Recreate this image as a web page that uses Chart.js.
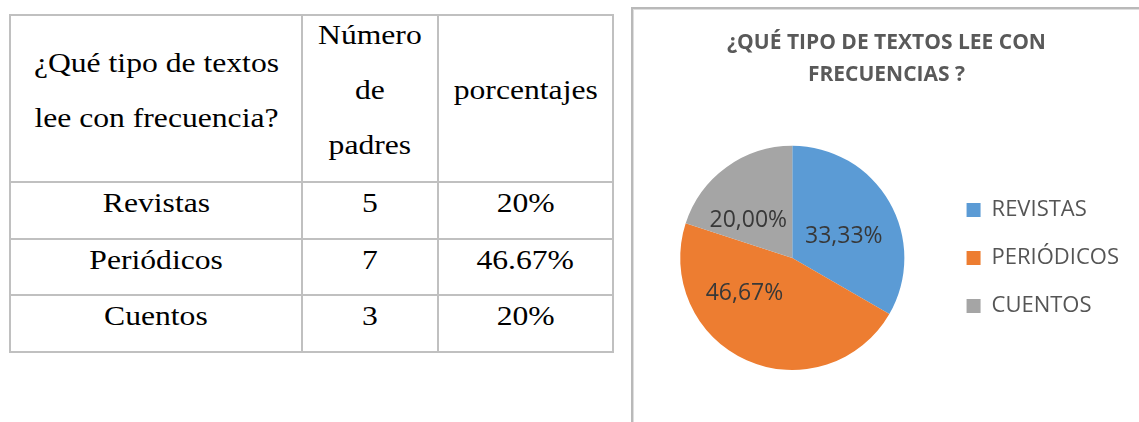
<!DOCTYPE html>
<html>
<head>
<meta charset="utf-8">
<script src="https://cdn.jsdelivr.net/npm/chart.js@4.4.1/dist/chart.umd.min.js"></script>
<style>
  html, body { margin: 0; padding: 0; background: #fff; }
  body { width: 1139px; height: 422px; overflow: hidden; position: relative; }
  #tabla {
    position: absolute; left: 9px; top: 14px;
    border-collapse: collapse; table-layout: fixed;
    font-family: "Liberation Serif", "Times New Roman", serif;
    font-size: 28px; color: #000;
  }
  #tabla td {
    border: 2px solid #c0c0c0; text-align: center; vertical-align: middle;
    padding: 0 0 15px 0; line-height: 32px; white-space: pre-line;
  }
  #tabla td span { display: inline-block; transform: scaleX(1.13); }
  #tabla tr.head td { line-height: 55px; padding: 0; }
  #tabla tr.head td span { transform: translateY(-9px) scaleX(1.13); }
  #marco {
    position: absolute; left: 631px; top: 7px; width: 600px; height: 500px;
    border-left: 2px solid #b9b9b9; border-top: 2px solid #b9b9b9;
    box-shadow: inset 1px 1px 0 #dedede;
  }
  #chartBox { position: absolute; left: 634px; top: 9px; width: 505px; height: 413px; }
</style>
</head>
<body>
<table id="tabla">
  <colgroup><col style="width:292px"><col style="width:136px"><col style="width:175px"></colgroup>
  <tbody></tbody>
</table>
<div id="marco"></div>
<div id="chartBox"><canvas id="pie"></canvas></div>
<script>
// datos de la tabla y del grafico
var encabezados = ["¿Qué tipo de textos\nlee con frecuencia?", "Número\nde\npadres", "porcentajes"];
var categorias = ["Revistas", "Periódicos", "Cuentos"];
var padres = [5, 7, 3];
var porcentajesTabla = ["20%", "46.67%", "20%"];

var colores = ["#5B9BD5", "#ED7D31", "#A5A5A5"];
var alturasFila = [167, 57, 56, 57];
// pequeño ajuste de las etiquetas dentro de cada porcion
var ajusteEtiqueta = [[3, 7], [-25, -16], [-11, 8]];

function fila(celdas, clase, alto) {
  var tr = document.createElement("tr");
  if (clase) tr.className = clase;
  tr.style.height = alto + "px";
  celdas.forEach(function (txt) {
    var td = document.createElement("td");
    var sp = document.createElement("span");
    sp.textContent = txt;
    td.appendChild(sp);
    tr.appendChild(td);
  });
  return tr;
}

var cuerpo = document.querySelector("#tabla tbody");
cuerpo.appendChild(fila(encabezados, "head", alturasFila[0]));
for (var i = 0; i < categorias.length; i++) {
  cuerpo.appendChild(fila([categorias[i], String(padres[i]), porcentajesTabla[i]], "", alturasFila[i + 1]));
}

const etiquetasPorcion = {
  id: "etiquetasPorcion",
  afterDatasetsDraw(chart) {
    const ctx = chart.ctx;
    const meta = chart.getDatasetMeta(0);
    const vals = chart.data.datasets[0].data;
    const total = vals.reduce((a, b) => a + b, 0);
    ctx.save();
    ctx.font = '23px "Open Sans"';
    ctx.fillStyle = "#383838";
    ctx.textAlign = "center";
    ctx.textBaseline = "middle";
    meta.data.forEach((arc, i) => {
      const pos = arc.tooltipPosition(true);
      const txt = (vals[i] / total * 100).toFixed(2).replace(".", ",") + "%";
      ctx.fillText(txt, pos.x + ajusteEtiqueta[i][0], pos.y + ajusteEtiqueta[i][1]);
    });
    ctx.restore();
  }
};

new Chart("pie", {
  type: "pie",
  data: {
    labels: categorias.map(c => c.toUpperCase()),
    datasets: [{
      data: padres,
      backgroundColor: colores,
      borderWidth: 0
    }]
  },
  options: {
    responsive: true,
    maintainAspectRatio: false,
    animation: false,
    layout: { padding: { top: 0, left: 10, right: 10, bottom: 52 } },
    plugins: {
      title: {
        display: true,
        text: ["¿QUÉ TIPO DE TEXTOS LEE CON", "FRECUENCIAS ?"],
        color: "#595959",
        font: { family: "Open Sans", size: 21, weight: "bold", lineHeight: 1.52 },
        padding: { top: 18, bottom: 55 }
      },
      legend: {
        position: "right",
        fullSize: false,
        labels: {
          color: "#555555",
          font: { family: "Open Sans", size: 22 },
          boxWidth: 14,
          boxHeight: 14,
          padding: 26
        }
      },
      tooltip: { enabled: false }
    }
  },
  plugins: [etiquetasPorcion]
});
</script>
</body>
</html>
